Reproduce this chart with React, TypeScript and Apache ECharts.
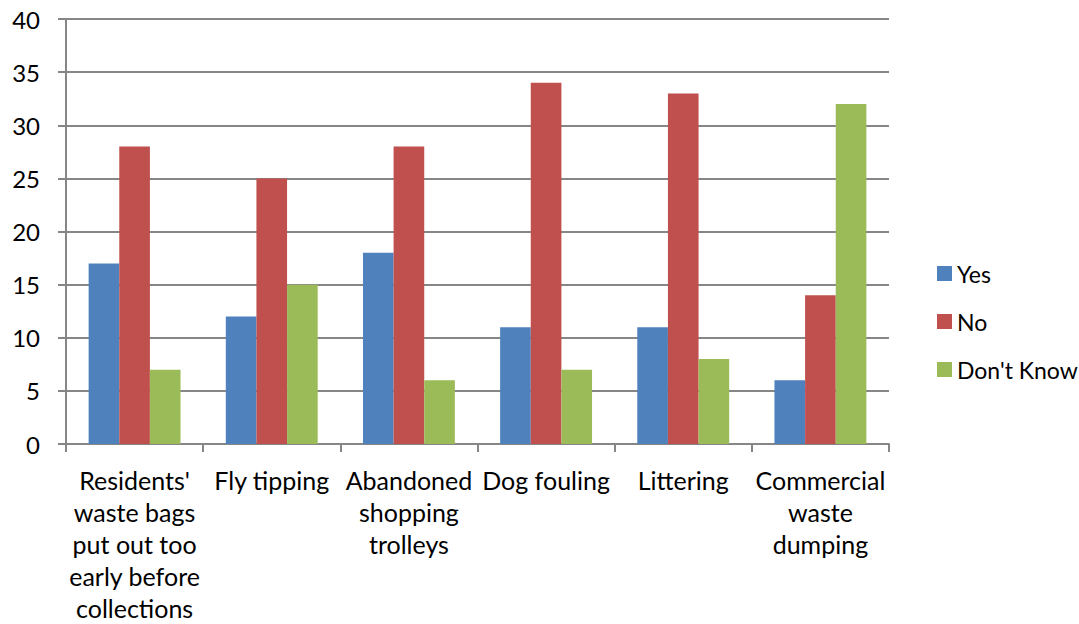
import React, { useEffect, useRef } from "react";
import * as echarts from "echarts";

const categories = [
  "Residents'\nwaste bags\nput out too\nearly before\ncollections",
  "Fly tipping",
  "Abandoned\nshopping\ntrolleys",
  "Dog fouling",
  "Littering",
  "Commercial\nwaste\ndumping",
];
const yesValues = [17, 12, 18, 11, 11, 6];
const noValues = [28, 25, 28, 34, 33, 14];
const dontKnowValues = [7, 15, 6, 7, 8, 32];
const seriesNames = ["Yes", "No", "Don't Know"];
const colors = ["#4F81BD", "#C0504D", "#9BBB59"];

const FONT = "Lato, 'Open Sans', sans-serif";

export default function App() {
  const ref = useRef<HTMLDivElement>(null);
  useEffect(() => {
    if (!ref.current) return;
    const chart = echarts.init(ref.current, undefined, { renderer: "svg" });
    const data = [yesValues, noValues, dontKnowValues];
    chart.setOption({
      animation: false,
      backgroundColor: "#ffffff",
      textStyle: { fontFamily: FONT },
      grid: { left: 66, right: 190, top: 19, bottom: 175, containLabel: false },
      legend: {
        orient: "vertical",
        left: 932,
        top: 257,
        itemWidth: 15,
        itemHeight: 15,
        itemGap: 25,
        icon: "rect",
        data: seriesNames,
        textStyle: { fontSize: 23, color: "#000", fontFamily: FONT },
      },
      xAxis: {
        type: "category",
        data: categories,
        axisLine: { lineStyle: { color: "#868686", width: 2 } },
        axisTick: { show: true, length: 8, alignWithLabel: false, lineStyle: { color: "#868686", width: 2 } },
        axisLabel: {
          interval: 0,
          fontSize: 25,
          color: "#000",
          lineHeight: 32,
          margin: 20,
          fontFamily: FONT,
        },
      },
      yAxis: {
        type: "value",
        min: 0,
        max: 40,
        interval: 5,
        axisLine: { show: true, lineStyle: { color: "#868686", width: 2 } },
        axisTick: { show: true, length: 8, lineStyle: { color: "#868686", width: 2 } },
        splitLine: { lineStyle: { color: "#868686", width: 2 } },
        axisLabel: { fontSize: 24, color: "#000", margin: 26, fontFamily: FONT },
      },
      series: seriesNames.map((name, i) => ({
        name,
        type: "bar",
        data: data[i],
        barGap: "0%",
        barCategoryGap: "33%",
        itemStyle: { color: colors[i] },
      })),
    });
    return () => chart.dispose();
  }, []);
  return (
    <div
      ref={ref}
      style={{ position: "fixed", left: 0, top: 0, width: 1079, height: 624, background: "#fff" }}
    />
  );
}
